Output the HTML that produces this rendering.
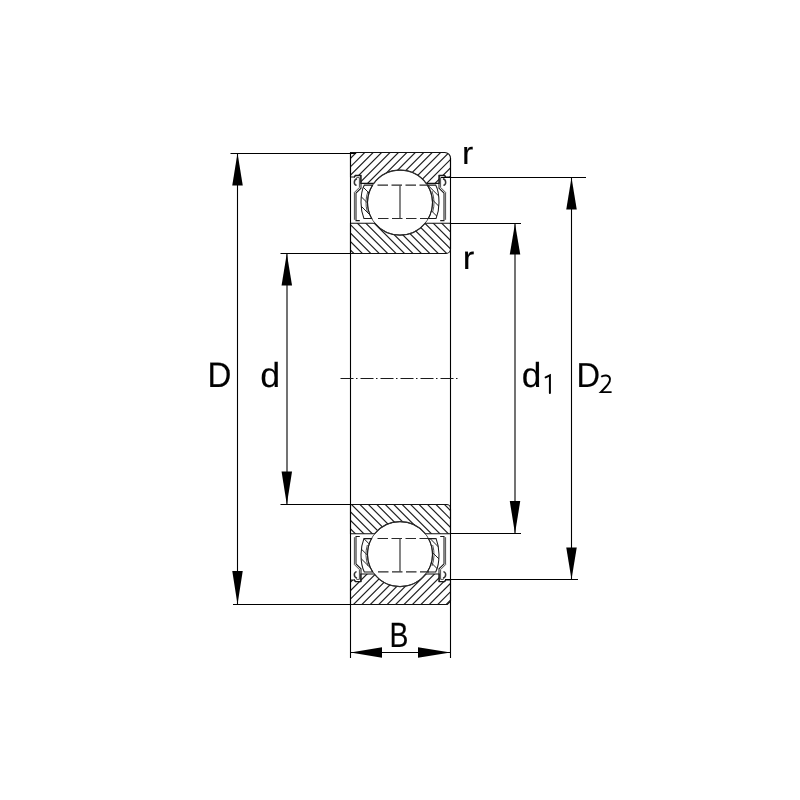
<!DOCTYPE html>
<html><head><meta charset="utf-8"><title>Bearing</title>
<style>html,body{margin:0;padding:0;background:#fff;width:800px;height:800px;overflow:hidden}svg{display:block}</style>
</head><body>
<svg width="800" height="800" viewBox="0 0 800 800">
<style>
.l{stroke:#000;stroke-width:1.1;fill:none}
.t{stroke:#111;stroke-width:1.1;fill:none}
.b{stroke:#333;stroke-width:0.9;fill:none}
.h{stroke:#222;stroke-width:1.2;fill:none}
.hc{stroke:#222;stroke-width:1;fill:none}
.s{stroke:#1a1a1a;stroke-width:1.05;fill:none}
.s2{stroke:#3a3a3a;stroke-width:0.9;fill:none}
.s3{stroke:#333;stroke-width:1.5;fill:none}
.a{fill:#000;stroke:none}
.dash{stroke:#2a2a2a;stroke-width:1.2;fill:none;stroke-dasharray:10.5 3.5}
.cl{stroke:#1a1a1a;stroke-width:1.05;fill:none;stroke-dasharray:13 2.5 1.5 3}
text{font-family:"Liberation Sans",sans-serif;fill:#000;text-rendering:geometricPrecision}
.tx{opacity:0.999;will-change:transform}
</style>
<defs>
<clipPath id="ot"><path d="M350.5,152.5H444.8A5.7,5.7 0 0 1 450.5,158.2V177H445.5L444.6,175.4H439.2V183.4H426.22A32.5,32.5 0 0 0 373.78,183.4H360.8V175.4H355.4L354.5,177H350.5Z"/></clipPath>
<clipPath id="it"><path d="M350.5,223.3H374.94A32.5,32.5 0 0 0 425.06,223.3H450.5V249A4.5,4.5 0 0 1 446,253.5H350.5Z"/></clipPath>
<clipPath id="ob"><path d="M350.5,604.5H447.3L450.5,601.3V580H445.5L444.6,581.6H439.2V574H425.7A32.5,32.5 0 0 1 374.3,574H360.8V581.6H355.4L354.5,580H350.5Z"/></clipPath>
<clipPath id="ib"><path d="M350.5,533.7H374.7A32.5,32.5 0 0 1 425.3,533.7H450.5V508.5A4,4 0 0 0 446.5,504.5H350.5Z"/></clipPath>
</defs>
<rect width="800" height="800" fill="#fff"/>
<path clip-path="url(#ot)" class="h" d="M345,146.96L456,35.96M345,155.39L456,44.39M345,163.82L456,52.82M345,172.25L456,61.25M345,180.68L456,69.68M345,189.11L456,78.11M345,197.54L456,86.54M345,205.97L456,94.97M345,214.4L456,103.4M345,222.83L456,111.83M345,231.26L456,120.26M345,239.69L456,128.69M345,248.12L456,137.12M345,256.55L456,145.55M345,264.98L456,153.98M345,273.41L456,162.41M345,281.84L456,170.84M345,290.27L456,179.27M345,298.7L456,187.7M345,307.13L456,196.13"/>
<path clip-path="url(#it)" class="h" d="M345,252.96L456,363.96M345,244.53L456,355.53M345,236.1L456,347.1M345,227.67L456,338.67M345,219.24L456,330.24M345,210.81L456,321.81M345,202.38L456,313.38M345,193.95L456,304.95M345,185.52L456,296.52M345,177.09L456,288.09M345,168.66L456,279.66M345,160.23L456,271.23M345,151.8L456,262.8M345,143.37L456,254.37M345,134.94L456,245.94M345,126.51L456,237.51M345,118.08L456,229.08M345,109.65L456,220.65"/>
<path clip-path="url(#ib)" class="h" d="M345,540.25L456,651.25M345,531.8L456,642.8M345,523.35L456,634.35M345,514.9L456,625.9M345,506.45L456,617.45M345,498L456,609M345,489.55L456,600.55M345,481.1L456,592.1M345,472.65L456,583.65M345,464.2L456,575.2M345,455.75L456,566.75M345,447.3L456,558.3M345,438.85L456,549.85M345,430.4L456,541.4M345,421.95L456,532.95M345,413.5L456,524.5M345,405.05L456,516.05M345,396.6L456,507.6M345,388.15L456,499.15"/>
<path clip-path="url(#ob)" class="h" d="M345,562.37L456,451.37M345,570.8L456,459.8M345,579.23L456,468.23M345,587.66L456,476.66M345,596.09L456,485.09M345,604.52L456,493.52M345,612.95L456,501.95M345,621.38L456,510.38M345,629.81L456,518.81M345,638.24L456,527.24M345,646.67L456,535.67M345,655.1L456,544.1M345,663.53L456,552.53M345,671.96L456,560.96M345,680.39L456,569.39M345,688.82L456,577.82M345,697.25L456,586.25M345,705.68L456,594.68M345,714.11L456,603.11"/>
<path class="t" d="M350.5,152.5H444.8A5.7,5.7 0 0 1 450.5,158.2V177H445.5L444.6,175.4H439.2V183.4H426.22A32.5,32.5 0 0 0 373.78,183.4H360.8V175.4H355.4L354.5,177H350.5Z"/>
<path class="t" d="M350.5,223.3H374.94A32.5,32.5 0 0 0 425.06,223.3H450.5V249A4.5,4.5 0 0 1 446,253.5H350.5Z"/>
<path class="t" d="M350.5,604.5H447.3L450.5,601.3V580H445.5L444.6,581.6H439.2V574H425.7A32.5,32.5 0 0 1 374.3,574H360.8V581.6H355.4L354.5,580H350.5Z"/>
<path class="t" d="M350.5,533.7H374.7A32.5,32.5 0 0 1 425.3,533.7H450.5V508.5A4,4 0 0 0 446.5,504.5H350.5Z"/>
<circle class="b" cx="400" cy="202.6" r="32.5"/>
<circle class="b" cx="400" cy="554.1" r="32.5"/>
<clipPath id="cg0"><path d="M364.3,185.1H372.61A32.5,32.5 0 0 0 371.6,218.4H363.9C362.2,214 361,208 361,202.5C361,196 362,189.5 364.3,185.1Z"/></clipPath><path clip-path="url(#cg0)" class="hc" d="M355,200L380,225M355,190.5L380,215.5M355,179L380,204"/><g><path class="s" d="M364.3,185.1H372.61A32.5,32.5 0 0 0 371.6,218.4H363.9C362.2,214 361,208 361,202.5C361,196 362,189.5 364.3,185.1Z"/><path class="s2" d="M368.04,191A34,34 0 0 0 367.33,212"/><path class="s" d="M354.2,177.4L355.2,175.6H361V188.2L356,193V220.6H359.8"/><path class="s2" d="M356.4,177.6H359.4V187.4L354.4,192.4V219.8"/><path class="s3" d="M357,178.8C353.4,179.8 353.6,184.6 356.6,185.4"/></g>
<clipPath id="cg1"><path transform="translate(800,0) scale(-1,1)" d="M364.3,185.1H372.61A32.5,32.5 0 0 0 371.6,218.4H363.9C362.2,214 361,208 361,202.5C361,196 362,189.5 364.3,185.1Z"/></clipPath><path clip-path="url(#cg1)" class="hc" d="M420,199.4L445,224.4M420,187.4L445,212.4M420,177.3L445,202.3"/><g transform="translate(800,0) scale(-1,1)"><path class="s" d="M364.3,185.1H372.61A32.5,32.5 0 0 0 371.6,218.4H363.9C362.2,214 361,208 361,202.5C361,196 362,189.5 364.3,185.1Z"/><path class="s2" d="M368.04,191A34,34 0 0 0 367.33,212"/><path class="s" d="M354.2,177.4L355.2,175.6H361V188.2L356,193V220.6H359.8"/><path class="s2" d="M356.4,177.6H359.4V187.4L354.4,192.4V219.8"/><path class="s3" d="M357,178.8C353.4,179.8 353.6,184.6 356.6,185.4"/></g>
<clipPath id="cg2"><path transform="translate(0,757) scale(1,-1)" d="M364.3,185.1H372.61A32.5,32.5 0 0 0 371.6,218.4H363.9C362.2,214 361,208 361,202.5C361,196 362,189.5 364.3,185.1Z"/></clipPath><path clip-path="url(#cg2)" class="hc" d="M355,529.75L380,554.75M355,542.75L380,567.75M355,552.5L380,577.5"/><g transform="translate(0,757) scale(1,-1)"><path class="s" d="M364.3,185.1H372.61A32.5,32.5 0 0 0 371.6,218.4H363.9C362.2,214 361,208 361,202.5C361,196 362,189.5 364.3,185.1Z"/><path class="s2" d="M368.04,191A34,34 0 0 0 367.33,212"/><path class="s" d="M354.2,177.4L355.2,175.6H361V188.2L356,193V220.6H359.8"/><path class="s2" d="M356.4,177.6H359.4V187.4L354.4,192.4V219.8"/><path class="s3" d="M357,178.8C353.4,179.8 353.6,184.6 356.6,185.4"/></g>
<clipPath id="cg3"><path transform="translate(800,757) scale(-1,-1)" d="M364.3,185.1H372.61A32.5,32.5 0 0 0 371.6,218.4H363.9C362.2,214 361,208 361,202.5C361,196 362,189.5 364.3,185.1Z"/></clipPath><path clip-path="url(#cg3)" class="hc" d="M420,528.5L445,553.5M420,540L445,565M420,551.5L445,576.5"/><g transform="translate(800,757) scale(-1,-1)"><path class="s" d="M364.3,185.1H372.61A32.5,32.5 0 0 0 371.6,218.4H363.9C362.2,214 361,208 361,202.5C361,196 362,189.5 364.3,185.1Z"/><path class="s2" d="M368.04,191A34,34 0 0 0 367.33,212"/><path class="s" d="M354.2,177.4L355.2,175.6H361V188.2L356,193V220.6H359.8"/><path class="s2" d="M356.4,177.6H359.4V187.4L354.4,192.4V219.8"/><path class="s3" d="M357,178.8C353.4,179.8 353.6,184.6 356.6,185.4"/></g>
<path class="dash" d="M377.5,185.2H428M378,218.5H429"/><path d="M400,185.2V218.5" stroke="#444" stroke-width="1.3"/>
<path class="dash" d="M377.5,538.5H428M378,571.8H429"/><path d="M400,538.5V571.8" stroke="#444" stroke-width="1.3"/>
<path class="l" d="M350.5,152.5V658M450.5,158V658"/>
<path class="l" d="M230.5,153.5H356M233,604.5H350.5M280.5,253.5H350.5M280.5,504.5H350.5M450.5,223.5H521M450.5,533.5H521M441,177.5H586M445,579.5H578"/>
<path class="l" d="M237.5,153V604.5M287,253V504.5M515,223V533.5M571.5,177V579.5M350.5,652.5H450.5"/>
<path class="a" d="M237.5,153L232.25,185.5L242.75,185.5Z"/>
<path class="a" d="M237.5,604.5L232.25,571L242.75,571Z"/>
<path class="a" d="M286.8,253.5L281.55,285.5L292.05,285.5Z"/>
<path class="a" d="M286.8,504.5L281.55,471.5L292.05,471.5Z"/>
<path class="a" d="M515,223.5L509.75,254.5L520.25,254.5Z"/>
<path class="a" d="M515,533.5L509.75,501L520.25,501Z"/>
<path class="a" d="M571.5,177.5L566.25,209.5L576.75,209.5Z"/>
<path class="a" d="M571.5,579.5L566.25,547.5L576.75,547.5Z"/>
<path class="a" d="M350.5,652.5L382,647.25L382,657.75Z"/>
<path class="a" d="M450.5,652.5L418,647.25L418,657.75Z"/>
<path class="cl" d="M340.5,378.5H460"/>
<g class="tx">
<text transform="translate(207.61,386.93) scale(0.9350,1)" font-size="35.393" stroke="#000" stroke-width="0.16">D</text>
<text transform="translate(260.32,386.58) scale(1.0270,1)" font-size="34.860" stroke="#000" stroke-width="0.15">d</text>
<text transform="translate(521.84,386.58) scale(1.0111,1)" font-size="34.860" stroke="#000" stroke-width="0.15">d</text>
<text transform="translate(576.4,386.68) scale(0.9424,1)" font-size="34.666" stroke="#000" stroke-width="0.16">D</text>
<text transform="translate(389.5,646.67) scale(0.8099,1)" font-size="35.030" stroke="#000" stroke-width="0.19">B</text>
<text transform="translate(462.03,163.93) scale(1.0543,1)" font-size="32.058" stroke="#000" stroke-width="0.14">r</text>
<text transform="translate(462.66,269.32) scale(1.0700,1)" font-size="32.523" stroke="#000" stroke-width="0.14">r</text>
</g>
<path d="M545.6,377.4L549.9,375.3V393" stroke="#000" stroke-width="2" fill="none" stroke-linecap="round"/>
<path d="M601.2,376.8C603.8,374.9 609.4,374.6 610,378.8C610.4,382.4 607,385.8 600.8,392.1H611.6" stroke="#000" stroke-width="1.9" fill="none"/>
</svg>
</body></html>
